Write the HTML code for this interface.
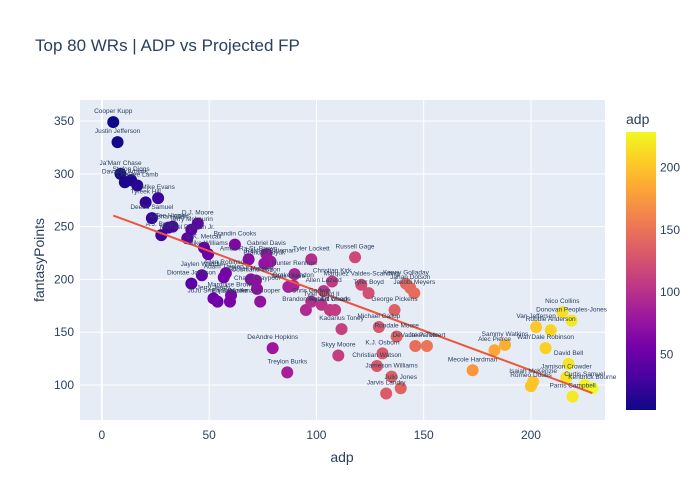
<!DOCTYPE html>
<html><head><meta charset="utf-8">
<style>
html,body{margin:0;padding:0;background:#fff;}
svg{display:block;font-family:"Liberation Sans",Arial,sans-serif;}
</style></head>
<body>
<svg id="chart" width="700" height="500" viewBox="0 0 700 500" xmlns="http://www.w3.org/2000/svg">
  <text x="35" y="51" font-size="17" fill="#2a3f5f">Top 80 WRs | ADP vs Projected FP</text>
  <rect x="80" y="100" width="525" height="320" fill="#e5ecf6"/>
  <g id="grid"></g>
  <g id="xticks"></g>
  <g id="yticks"></g>
  <g id="pts"></g>
  <g id="trend"></g>
  <g id="labels"></g>
  <text x="342" y="462" font-size="14" fill="#2a3f5f" text-anchor="middle">adp</text>
  <text x="0" y="0" font-size="14" fill="#2a3f5f" text-anchor="middle" transform="translate(44,260) rotate(-90)">fantasyPoints</text>
  <text x="626" y="124" font-size="14" fill="#2a3f5f">adp</text>
  <defs>
    <linearGradient id="plasma" x1="0" y1="1" x2="0" y2="0">
      <stop offset="0" stop-color="#0d0887"/>
      <stop offset="0.111" stop-color="#46039f"/>
      <stop offset="0.222" stop-color="#7201a8"/>
      <stop offset="0.333" stop-color="#9c179e"/>
      <stop offset="0.444" stop-color="#bd3786"/>
      <stop offset="0.556" stop-color="#d8576b"/>
      <stop offset="0.667" stop-color="#ed7953"/>
      <stop offset="0.778" stop-color="#fb9f3a"/>
      <stop offset="0.889" stop-color="#fdca26"/>
      <stop offset="1" stop-color="#f0f921"/>
    </linearGradient>
  </defs>
  <rect x="626" y="132" width="30" height="278" fill="url(#plasma)"/>
  <g id="cbticks"></g>
</svg>
<script>
const names = ["Cooper Kupp","Justin Jefferson","Ja'Marr Chase","Davante Adams","Stefon Diggs","CeeDee Lamb","Tyreek Hill","Mike Evans","Deebo Samuel","Tee Higgins","Keenan Allen","A.J. Brown","D.J. Moore","Terry McLaurin","Michael Pittman Jr.","D.K. Metcalf","Mike Williams","Brandin Cooks","Amon-Ra St. Brown","Gabriel Davis","Rashod Bateman","Brandon Aiyuk","Tyler Lockett","Russell Gage","Hunter Renfrow","Allen Robinson","Jaylen Waddle","Diontae Johnson","Adam Thielen","Darnell Mooney","Courtland Sutton","Chase Claypool","Marquise Brown","Elijah Moore","Jerry Jeudy","JuJu Smith-Schuster","Amari Cooper","Chris Olave","Drake London","Christian Kirk","Allen Lazard","Brandon Aiyuk II","Chris Godwin","Tyler Boyd II","Robert Woods","DJ Chark","Kadarius Toney","Marquez Valdes-Scantling","Tyler Boyd","DeAndre Hopkins","Treylon Burks","Skyy Moore","Christian Watson","Jameson Williams","Julio Jones","Jarvis Landry","K.J. Osborn","George Pickens","Michael Gallup","Rondale Moore","DeVante Parker","Jalen Tolbert","Kenny Golladay","Jahan Dotson","Jakobi Meyers","Mecole Hardman","Nico Collins","Donovan Peoples-Jones","Van Jefferson","Robbie Anderson","Sammy Watkins","Alec Pierce","Wan'Dale Robinson","David Bell","Jamison Crowder","Isaiah McKenzie","Romeo Doubs","Kendrick Bourne","Curtis Samuel","Parris Campbell"];
const adp = [5.3,7.3,8.7,10.7,13.6,16.5,20.4,26.2,23.3,33,31,27.7,44.7,41.7,39.8,47.6,49.5,62,68.4,76.7,78.6,75.7,97.6,118,89.8,57.8,46.6,41.7,56.8,69.4,71.8,72.3,60.2,59.7,52,53.9,73.8,86.9,89.3,107.3,103.4,95.1,97.6,102.4,106.3,108.7,111.7,120.9,124.3,79.6,86.4,110.2,128.2,135,139.3,132.5,130.8,136.4,129.1,137.4,146.1,151.5,141.7,143.7,145.6,172.8,214.6,218.9,202.4,209.2,187.9,183,206.8,217.5,216.5,201,200,228.6,225,219.4];
const fp = [349,330,300,292,294,289,273,277,258,250,249,242,253,247,239,230,224,233,219,224,217,215,219,221,205,206,204,196,202,200,199,191,185,179,182,179,179,193,194,198,189,171,179,176,171,171,153,195,187,135,112,128,118,108,97,92,130,171,155,146,137,137,196,192,187,114,169,161,155,152,138,133,135,120,107,103,99,97,100,89];
const xTicks = [0,50,100,150,200];
const yTicks = [100,150,200,250,300,350];
const cbTicks = [50,100,150,200];

const NS = "http://www.w3.org/2000/svg";
const X0 = 80, X1 = 605, Y0 = 100, Y1 = 420;
const xMin = -10.2, xMax = 234.5, yMin = 66.9, yMax = 369.9;
const xs = v => X0 + (v - xMin) / (xMax - xMin) * (X1 - X0);
const ys = v => Y1 - (v - yMin) / (yMax - yMin) * (Y1 - Y0);
const cMin = Math.min(...adp), cMax = Math.max(...adp);
const cbY = v => 410 - (v - cMin) / (cMax - cMin) * 278;
const stops = ["#0d0887","#46039f","#7201a8","#9c179e","#bd3786","#d8576b","#ed7953","#fb9f3a","#fdca26","#f0f921"];
function hex(h){return [1,3,5].map(i=>parseInt(h.substr(i,2),16));}
function plasma(t){
  t = Math.max(0, Math.min(1, t)) * (stops.length - 1);
  const i = Math.min(Math.floor(t), stops.length - 2), f = t - i;
  const a = hex(stops[i]), b = hex(stops[i+1]);
  return "rgb(" + a.map((v,k)=>Math.round(v + (b[k]-v)*f)).join(",") + ")";
}
function mk(tag, attrs, parent){
  const e = document.createElementNS(NS, tag);
  for (const k in attrs) e.setAttribute(k, attrs[k]);
  parent.appendChild(e);
  return e;
}
const grid = document.getElementById("grid");
const xt = document.getElementById("xticks");
const yt = document.getElementById("yticks");
xTicks.forEach(v => {
  const l = mk("line", {x1: xs(v), x2: xs(v), y1: Y0, y2: Y1, stroke: "#fff", "stroke-width": v === 0 ? 2 : 1}, grid);
  
  
  const t = mk("text", {x: xs(v), y: 439, "font-size": 12, fill: "#2a3f5f", "text-anchor": "middle"}, xt);
  t.textContent = v;
  
  
});
yTicks.forEach(v => {
  const l = mk("line", {x1: X0, x2: X1, y1: ys(v), y2: ys(v), stroke: "#fff", "stroke-width": 1}, grid);
  
  
  const t = mk("text", {x: 74, y: ys(v) + 4, "font-size": 12, fill: "#2a3f5f", "text-anchor": "end"}, yt);
  t.textContent = v;
  
  
});
const cbt = document.getElementById("cbticks");
cbTicks.forEach(v => {
  const t = mk("text", {x: 660, y: cbY(v) + 4, "font-size": 12, fill: "#2a3f5f"}, cbt);
  t.textContent = v;
  
  
});
const pts = document.getElementById("pts");
const lbl = document.getElementById("labels");
adp.forEach((a, i) => {
  const c = mk("circle", {cx: xs(a), cy: ys(fp[i]), r: 6, fill: plasma((a - cMin) / (cMax - cMin))}, pts);
  
  
  const t = mk("text", {x: xs(a), y: ys(fp[i]) - 9, "font-size": 6.5, fill: "#2a3f5f", "text-anchor": "middle"}, lbl);
  t.textContent = names[i];
  
  
});
// OLS trendline computed from data
const n = adp.length;
const mx = adp.reduce((s,v)=>s+v,0)/n, my = fp.reduce((s,v)=>s+v,0)/n;
let sxy = 0, sxx = 0;
for (let i = 0; i < n; i++){ sxy += (adp[i]-mx)*(fp[i]-my); sxx += (adp[i]-mx)**2; }
const slope = sxy/sxx, icpt = my - slope*mx;
const tl = mk("line", {x1: xs(cMin), y1: ys(icpt + slope*cMin), x2: xs(cMax), y2: ys(icpt + slope*cMax), stroke: "#ef553b", "stroke-width": 2}, document.getElementById("trend"));


</script>
</body></html>
